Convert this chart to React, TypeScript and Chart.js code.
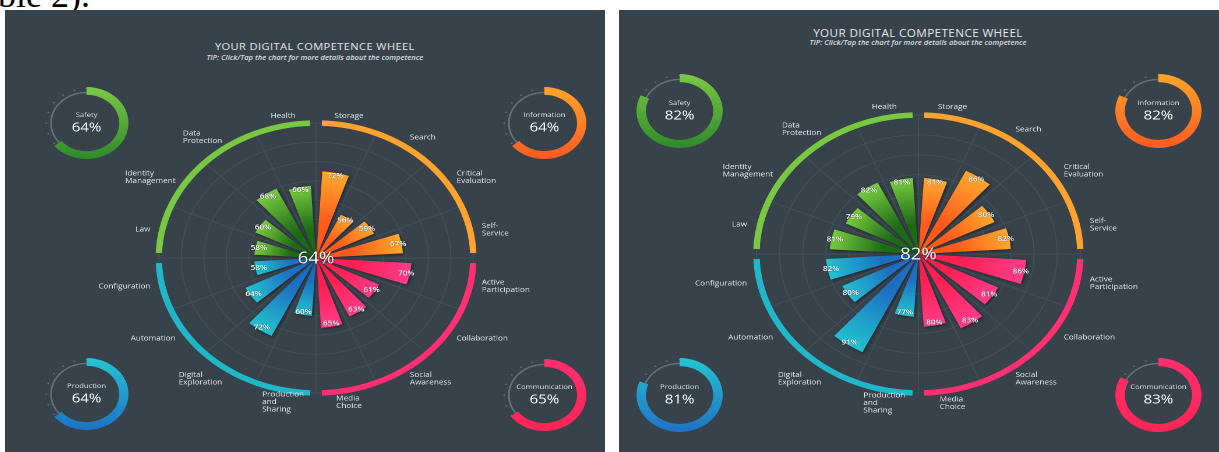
import React, { useEffect, useRef } from "react";
import { Chart, registerables } from "chart.js";

Chart.register(...registerables);
Chart.defaults.font.family = '"Open Sans", "DejaVu Sans", sans-serif';

// ---------------- DATA ----------------
const categories: string[][] = [
  ["Storage"],
  ["Search"],
  ["Critical", "Evaluation"],
  ["Self-", "Service"],
  ["Active", "Participation"],
  ["Collaboration"],
  ["Social", "Awareness"],
  ["Media", "Choice"],
  ["Production", "and", "Sharing"],
  ["Digital", "Exploration"],
  ["Automation"],
  ["Configuration"],
  ["Law"],
  ["Identity", "Management"],
  ["Data", "Protection"],
  ["Health"],
];
const groupNames = ["Information", "Communication", "Production", "Safety"];

const leftValues = [72, 56, 59, 67, 70, 61, 63, 65, 60, 72, 64, 58, 58, 60, 68, 66];
const rightValues = [81, 86, 80, 82, 86, 81, 83, 80, 77, 91, 80, 82, 81, 79, 82, 81];

const leftGroupScores = [64, 65, 64, 64];
const rightGroupScores = [82, 83, 81, 82];

const leftOverall = 64;
const rightOverall = 82;

const leftScaleRange = [36, 92];
const leftScaleStep = 8;
const rightScaleRange = [58, 100];
const rightScaleStep = 6;

const titleText = "YOUR DIGITAL COMPETENCE WHEEL";
const tipText = "TIP: Click/Tap the chart for more details about the competence";

// ---------------- STYLE ----------------
const BG = "#37424b";
const GRID = "#444f58";
const SX = 1.165;
const PANEL_W = 515;
const BAR_PAD = 0.16;
const RING_WIDTH = 5.5;
const RING_GAP = 5;

const BAR_DARK = ["#ff5a1c", "#ff1f52", "#1d6fc2", "#1e6a17"];
const BAR_LIGHT = ["#ffa82d", "#ff3d8a", "#22c2d0", "#78cc3f"];
const RING_COLORS = ["#ffa32f", "#ff2f72", "#20b8c9", "#79c842"];
const GAUGE_TOP = ["#ffa52a", "#ff2f6e", "#24c4d3", "#7cc946"];
const GAUGE_BOTTOM = ["#ff5a20", "#ff2556", "#1f72c4", "#2e8a2b"];
const TRACK = "rgba(150,158,166,0.5)";

type Layout = {
  x: number;
  y: number;
  h: number;
  cx: number;
  cy: number;
  R: number;
  labelGap: number;
  titleX: number;
  titleY: number;
  subY: number;
  titleSize: number;
  gaugeR: number;
  gauges: number[][];
};

const leftLayout: Layout = {
  x: 5,
  y: 10,
  h: 442,
  cx: 267,
  cy: 248,
  R: 135,
  labelGap: 10,
  titleX: 266,
  titleY: 37,
  subY: 48,
  titleSize: 9.5,
  gaugeR: 36,
  gauges: [
    [462.7, 113],
    [462.7, 385],
    [70.4, 384],
    [70.4, 113],
  ],
};

const rightLayout: Layout = {
  x: 619,
  y: 10,
  h: 442,
  cx: 256.7,
  cy: 244,
  R: 139,
  labelGap: 11,
  titleX: 256.7,
  titleY: 23,
  subY: 33,
  titleSize: 10,
  gaugeR: 37,
  gauges: [
    [462.7, 101],
    [462.7, 385],
    [51.5, 385],
    [51.5, 101],
  ],
};

const groupOf = (i: number) => Math.floor(i / 4);
const finite = (...v: any[]) => v.every((x) => typeof x === "number" && isFinite(x));

// ---------------- PLUGINS ----------------
function makeWheelPlugin(overall: number, labelGap: number) {
  return {
    id: "wheel",
    afterDatasetUpdate(chart: any, args: any) {
      for (const el of args.meta.data) {
        const span = el.endAngle - el.startAngle;
        el.startAngle += span * BAR_PAD;
        el.endAngle -= span * BAR_PAD;
      }
    },
    beforeDatasetsDraw(chart: any) {
      const ctx = chart.ctx;
      const s = chart.scales.r;
      ctx.save();
      ctx.lineWidth = RING_WIDTH;
      const gap = RING_GAP / s.drawingArea;
      for (let g = 0; g < 4; g++) {
        const a0 = -Math.PI / 2 + (g * Math.PI) / 2 + gap;
        const a1 = -Math.PI / 2 + ((g + 1) * Math.PI) / 2 - gap;
        ctx.beginPath();
        ctx.strokeStyle = RING_COLORS[g];
        ctx.arc(s.xCenter, s.yCenter, s.drawingArea, a0, a1);
        ctx.stroke();
      }
      ctx.restore();
      ctx.save();
      ctx.shadowColor = "rgba(0,0,0,0.45)";
      ctx.shadowBlur = 6;
      ctx.shadowOffsetX = 2;
      ctx.shadowOffsetY = 2;
    },
    afterDatasetsDraw(chart: any) {
      const ctx = chart.ctx;
      ctx.restore();
      const s = chart.scales.r;
      const meta = chart.getDatasetMeta(0);
      const data = chart.data.datasets[0].data;
      ctx.save();
      ctx.font = '600 7px "Open Sans"';
      ctx.fillStyle = "#ffffff";
      ctx.textAlign = "center";
      ctx.textBaseline = "middle";
      ctx.shadowColor = "rgba(0,0,0,0.75)";
      ctx.shadowBlur = 2;
      meta.data.forEach((el: any, i: number) => {
        const mid = (el.startAngle + el.endAngle) / 2;
        const r = el.outerRadius - 3;
        ctx.fillText(data[i] + "%", el.x + Math.cos(mid) * r, el.y + Math.sin(mid) * r);
      });
      ctx.font = '16px "Open Sans"';
      ctx.shadowBlur = 3;
      ctx.fillText(overall + "%", s.xCenter, s.yCenter + 1);
      ctx.restore();
    },
    afterDraw(chart: any) {
      const ctx = chart.ctx;
      const s = chart.scales.r;
      const labels = chart.data.labels as string[][];
      const n = labels.length;
      ctx.save();
      ctx.font = '7px "Open Sans"';
      ctx.fillStyle = "#e6e8ea";
      ctx.textBaseline = "middle";
      ctx.textAlign = "left";
      labels.forEach((lab, i) => {
        const lines = Array.isArray(lab) ? lab : [lab];
        const p = s.getPointPosition(i, s.drawingArea + labelGap, Math.PI / n);
        const deg = ((i + 0.5) * 360) / n;
        const w = Math.max(...lines.map((l) => ctx.measureText(l).width));
        const top = deg < 20 || deg > 340;
        const bottom = deg > 160 && deg < 200;
        let left: number;
        if (top || bottom) left = p.x - w / 2;
        else if (deg < 180) left = p.x;
        else left = p.x - w;
        const lh = 7.5;
        const y0 = p.y - (lines.length * lh) / 2 + lh / 2 + (bottom ? 2 : 0);
        lines.forEach((l, k) => ctx.fillText(l, left, y0 + k * lh));
      });
      ctx.restore();
    },
  };
}

function makeGaugePlugin(name: string, score: number) {
  return {
    id: "gauge",
    beforeDatasetsDraw(chart: any) {
      const ctx = chart.ctx;
      const el = chart.getDatasetMeta(0).data[0];
      const cx = el.x;
      const cy = el.y;
      const R = el.outerRadius;
      ctx.save();
      ctx.strokeStyle = TRACK;
      ctx.lineWidth = 1.5;
      ctx.beginPath();
      ctx.arc(cx, cy, R - 5.5, 0, Math.PI * 2);
      ctx.stroke();
      ctx.fillStyle = TRACK;
      for (let k = 0; k < 20; k++) {
        const a = -Math.PI / 2 + (k * Math.PI * 2) / 20;
        ctx.beginPath();
        ctx.arc(cx + Math.cos(a) * (R - 1.5), cy + Math.sin(a) * (R - 1.5), 0.8, 0, Math.PI * 2);
        ctx.fill();
      }
      ctx.restore();
    },
    afterDraw(chart: any) {
      const ctx = chart.ctx;
      const el = chart.getDatasetMeta(0).data[0];
      ctx.save();
      ctx.textAlign = "center";
      ctx.textBaseline = "middle";
      ctx.fillStyle = "#dfe2e5";
      ctx.font = '6.5px "Open Sans"';
      ctx.fillText(name, el.x, el.y - 8);
      ctx.fillStyle = "#ffffff";
      ctx.font = '13px "Open Sans"';
      ctx.fillText(score + "%", el.x, el.y + 5);
      ctx.restore();
    },
  };
}

// ---------------- CONFIG BUILDERS ----------------
function wheelConfig(values: number[], range: number[], step: number, overall: number, L: Layout) {
  const pad = 170 - L.R;
  return {
    type: "polarArea",
    data: {
      labels: categories,
      datasets: [
        {
          data: values,
          borderWidth: 0,
          backgroundColor: (c: any) => {
            const g = groupOf(c.dataIndex ?? 0);
            const s = c.chart.scales?.r;
            if (!s || c.type !== "data") return BAR_LIGHT[g];
            const r = s.getDistanceFromCenterForValue(c.raw);
            if (!finite(s.xCenter, s.yCenter, r) || r <= 1) return BAR_LIGHT[g];
            const grad = c.chart.ctx.createRadialGradient(s.xCenter, s.yCenter, 0, s.xCenter, s.yCenter, r);
            grad.addColorStop(0, BAR_DARK[g]);
            grad.addColorStop(0.4, BAR_DARK[g]);
            grad.addColorStop(1, BAR_LIGHT[g]);
            return grad;
          },
        },
      ],
    },
    options: {
      responsive: false,
      animation: false,
      devicePixelRatio: 2,
      events: [],
      layout: { padding: { top: pad, bottom: pad, left: 0, right: 0 } },
      plugins: { legend: { display: false }, tooltip: { enabled: false } },
      scales: {
        r: {
          min: range[0],
          max: range[1],
          beginAtZero: false,
          ticks: { display: false, stepSize: step },
          grid: { color: GRID, lineWidth: 1, circular: true },
          angleLines: { display: true, color: GRID, lineWidth: 1 },
          pointLabels: { display: false },
        },
      },
    },
    plugins: [makeWheelPlugin(overall, L.labelGap)],
  } as any;
}

function gaugeConfig(g: number, score: number) {
  return {
    type: "doughnut",
    data: {
      labels: [groupNames[g], ""],
      datasets: [
        {
          data: [score, 100 - score],
          borderWidth: 0,
          backgroundColor: (c: any) => {
            if (c.dataIndex !== 0) return "rgba(0,0,0,0)";
            const a = c.chart.chartArea;
            if (!a || !finite(a.top, a.bottom) || a.bottom <= a.top) return GAUGE_TOP[g];
            const grad = c.chart.ctx.createLinearGradient(0, a.top, 0, a.bottom);
            grad.addColorStop(0, GAUGE_TOP[g]);
            grad.addColorStop(1, GAUGE_BOTTOM[g]);
            return grad;
          },
        },
      ],
    },
    options: {
      responsive: false,
      animation: false,
      devicePixelRatio: 2,
      events: [],
      cutout: "78%",
      layout: { padding: 4 },
      plugins: { legend: { display: false }, tooltip: { enabled: false } },
    },
    plugins: [makeGaugePlugin(groupNames[g], score)],
  } as any;
}

// ---------------- COMPONENTS ----------------
function ChartCanvas(props: { w: number; h: number; left: number; top: number; make: () => any }) {
  const ref = useRef<HTMLCanvasElement>(null);
  useEffect(() => {
    const chart = new Chart(ref.current as HTMLCanvasElement, props.make());
    return () => chart.destroy();
  }, []);
  return (
    <canvas
      ref={ref}
      width={props.w}
      height={props.h}
      style={{ position: "absolute", left: props.left, top: props.top, width: props.w, height: props.h }}
    />
  );
}

function Panel(props: {
  L: Layout;
  values: number[];
  range: number[];
  step: number;
  overall: number;
  scores: number[];
}) {
  const { L } = props;
  const gs = 2 * L.gaugeR + 8;
  return (
    <div
      style={{
        position: "absolute",
        left: L.x,
        top: L.y,
        width: PANEL_W,
        height: L.h,
        background: BG,
        transform: `scaleX(${SX})`,
        transformOrigin: "0 0",
        overflow: "hidden",
      }}
    >
      <div
        style={{
          position: "absolute",
          left: L.titleX - 200,
          width: 400,
          top: L.titleY - 7,
          lineHeight: "14px",
          textAlign: "center",
          font: `${L.titleSize}px "Open Sans", sans-serif`,
          letterSpacing: "0.35px",
          color: "#e4e6e8",
          whiteSpace: "nowrap",
        }}
      >
        {titleText}
      </div>
      <div
        style={{
          position: "absolute",
          left: L.titleX - 200,
          width: 400,
          top: L.subY - 5,
          lineHeight: "10px",
          textAlign: "center",
          font: `italic 600 6.5px "Open Sans", sans-serif`,
          color: "#d9dcdf",
          whiteSpace: "nowrap",
        }}
      >
        {tipText}
      </div>
      <ChartCanvas
        w={400}
        h={340}
        left={L.cx - 200}
        top={L.cy - 170}
        make={() => wheelConfig(props.values, props.range, props.step, props.overall, L)}
      />
      {L.gauges.map((p, g) => (
        <ChartCanvas
          key={g}
          w={gs}
          h={gs}
          left={p[0] - gs / 2}
          top={p[1] - gs / 2}
          make={() => gaugeConfig(g, props.scores[g])}
        />
      ))}
    </div>
  );
}

export default function App() {
  return (
    <div
      style={{
        position: "absolute",
        left: 0,
        top: 0,
        width: 1219,
        height: 452,
        overflow: "hidden",
        background: "#ffffff",
      }}
    >
      <div
        style={{
          position: "absolute",
          left: -2,
          top: -23,
          font: '36px "Liberation Serif", serif',
          lineHeight: "36px",
          color: "#000",
          whiteSpace: "nowrap",
        }}
      >
        ble 2).
      </div>
      <Panel
        L={leftLayout}
        values={leftValues}
        range={leftScaleRange}
        step={leftScaleStep}
        overall={leftOverall}
        scores={leftGroupScores}
      />
      <Panel
        L={rightLayout}
        values={rightValues}
        range={rightScaleRange}
        step={rightScaleStep}
        overall={rightOverall}
        scores={rightGroupScores}
      />
    </div>
  );
}
